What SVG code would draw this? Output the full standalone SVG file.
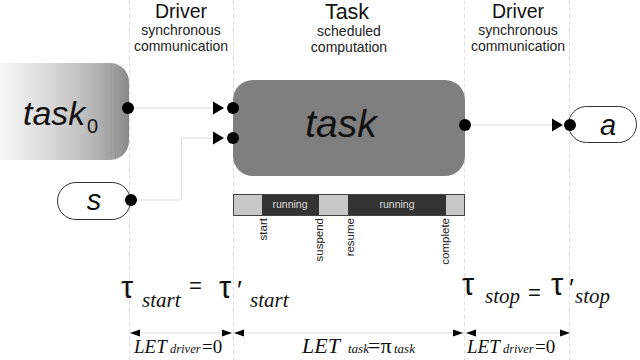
<svg xmlns="http://www.w3.org/2000/svg" width="640" height="360" viewBox="0 0 640 360">
  <style>
    .sans { font-family: "Liberation Sans", Arial, sans-serif; }
    .serif { font-family: "Liberation Serif", "Times New Roman", serif; }
    .head { font-size: 19.5px; fill: #111; text-anchor: middle; }
    .sub { font-size: 14px; fill: #222; text-anchor: middle; }
    .guide { stroke: #dddddd; stroke-width: 1; stroke-dasharray: 4 3; fill: none; }
    .wire { stroke: #dddddd; stroke-width: 1; fill: none; }
    .port { fill: #000; }
    .head-tri { fill: #000; }
    .pill { fill: #fff; stroke: #333; stroke-width: 1; }
    .seg-idle { fill: #c8c8c8; }
    .seg-run { fill: #333333; }
    .run-label { font-size: 10.5px; fill: #dddddd; text-anchor: middle; }
    .evt { font-size: 11.5px; fill: #222; text-anchor: end; }
    .tau { font-size: 31px; fill: #111; }
    .tsub { font-size: 21px; font-style: italic; fill: #111; }
    .eq { font-size: 22px; fill: #111; }
    .let { font-size: 19px; font-style: italic; fill: #111; }
    .letsub { font-size: 12.5px; font-style: italic; fill: #111; }
    .letop { font-size: 19px; fill: #111; }
  </style>
  <defs>
    <linearGradient id="fadeGrad" x1="0" y1="0" x2="1" y2="0">
      <stop offset="0" stop-color="#ffffff"/>
      <stop offset="0.25" stop-color="#f6f6f6"/>
      <stop offset="0.5" stop-color="#dcdcdc"/>
      <stop offset="0.75" stop-color="#bcbcbc"/>
      <stop offset="0.9" stop-color="#a2a2a2"/>
      <stop offset="1" stop-color="#888888"/>
    </linearGradient>
    <path id="triR" d="M0,-6.5 L11,0 L0,6.5 Z"/>
  </defs>

  <!-- phase boundaries -->
  <g id="guides">
    <line class="guide" x1="129.5" y1="0" x2="129.5" y2="360"/>
    <line class="guide" x1="233.5" y1="0" x2="233.5" y2="360"/>
    <line class="guide" x1="464.5" y1="0" x2="464.5" y2="360"/>
    <line class="guide" x1="569.5" y1="0" x2="569.5" y2="360"/>
  </g>

  <!-- phase headings -->
  <g id="headings" class="sans">
    <text class="head" x="181" y="18">Driver</text>
    <text class="sub" x="181" y="35">synchronous</text>
    <text class="sub" x="181" y="51">communication</text>
    <text class="head" x="347" y="19" style="font-size:21.5px">Task</text>
    <text class="sub" x="349" y="36">scheduled</text>
    <text class="sub" x="349" y="52">computation</text>
    <text class="head" x="518" y="18">Driver</text>
    <text class="sub" x="518" y="35">synchronous</text>
    <text class="sub" x="518" y="51">communication</text>
  </g>

  <!-- connectors -->
  <g id="connectors">
    <polyline class="wire" points="128,108 214,108"/>
    <polyline class="wire" points="131,200 181.5,200 181.5,138 214,138"/>
    <polyline class="wire" points="465,125 553,125"/>
    <use href="#triR" x="213" y="108"/>
    <use href="#triR" x="213" y="138"/>
    <use href="#triR" x="552" y="125"/>
  </g>

  <!-- upstream task -->
  <g id="task0">
    <rect x="-40" y="63" width="169" height="97" rx="19" fill="url(#fadeGrad)"/>
    <g stroke="#8a8a8a" stroke-width="1" opacity="0.3">
      <line x1="106.5" y1="63" x2="106.5" y2="160"/>
      <line x1="111.5" y1="63" x2="111.5" y2="160"/>
      <line x1="115.5" y1="63" x2="115.5" y2="160"/>
    </g>
    <text class="sans" x="23" y="125" style="font-size:34px;font-style:italic;fill:#111">task</text>
    <text class="sans" x="87" y="133" style="font-size:20px;fill:#111">0</text>
    <circle class="port" cx="128" cy="108" r="6"/>
  </g>

  <!-- source s -->
  <g id="s">
    <rect class="pill" x="57.5" y="182.5" width="73" height="37" rx="18.5"/>
    <text class="sans" x="94" y="210" style="font-size:29px;font-style:italic;fill:#111" text-anchor="middle">s</text>
    <circle class="port" cx="131" cy="200" r="6"/>
  </g>

  <!-- scheduled task -->
  <g id="task">
    <rect x="233" y="80" width="232" height="96" rx="20" fill="#7f7f7f"/>
    <text class="sans" x="341" y="137" style="font-size:39px;font-style:italic;fill:#111" text-anchor="middle">task</text>
    <circle class="port" cx="233" cy="108" r="6"/>
    <circle class="port" cx="233" cy="138" r="6"/>
    <circle class="port" cx="465" cy="125" r="6"/>
  </g>

  <!-- actuator a -->
  <g id="a">
    <rect class="pill" x="568.5" y="106.5" width="68" height="36" rx="18"/>
    <text class="sans" x="608" y="135" style="font-size:29px;font-style:italic;fill:#111" text-anchor="middle">a</text>
    <circle class="port" cx="570" cy="125" r="6"/>
  </g>

  <!-- execution timeline -->
  <g id="timeline" class="sans">
    <rect class="seg-idle" x="233" y="194" width="29" height="22"/>
    <rect class="seg-run" x="262" y="194" width="57" height="22"/>
    <rect class="seg-idle" x="319" y="194" width="29" height="22"/>
    <rect class="seg-run" x="348" y="194" width="98" height="22"/>
    <rect class="seg-idle" x="446" y="194" width="19" height="22"/>
    <rect x="233.5" y="194.5" width="231" height="21" fill="none" stroke="#444" stroke-width="1"/>
    <text class="run-label" x="290" y="208">running</text>
    <text class="run-label" x="397" y="208">running</text>
    <text class="evt" transform="translate(267,218) rotate(-90)">start</text>
    <text class="evt" transform="translate(323,218) rotate(-90)">suspend</text>
    <text class="evt" transform="translate(354,218) rotate(-90)">resume</text>
    <text class="evt" transform="translate(449,218) rotate(-90)">complete</text>
  </g>

  <!-- release / termination instants -->
  <g id="instants">
    <text class="sans tau" x="121" y="298">τ</text>
    <text class="serif tsub" x="142" y="307">start</text>
    <text class="sans eq" x="189" y="293">=</text>
    <text class="sans tau" x="219" y="298">τ</text>
    <text class="sans" x="237" y="299" style="font-size:26px;fill:#111">′</text>
    <text class="serif tsub" x="250" y="307">start</text>

    <text class="sans tau" x="462" y="295">τ</text>
    <text class="serif tsub" x="485" y="303">stop</text>
    <text class="sans eq" x="528" y="300">=</text>
    <text class="sans tau" x="551" y="295">τ</text>
    <text class="sans" x="569" y="297" style="font-size:26px;fill:#111">′</text>
    <text class="serif tsub" x="575" y="303">stop</text>
  </g>

  <!-- logical execution time spans -->
  <g id="spans">
    <line class="wire" x1="130" y1="333" x2="570" y2="333"/>
    <path class="head-tri" d="M130,333 L140,329.5 L140,336.5 Z"/>
    <path class="head-tri" d="M232,333 L222,329.5 L222,336.5 Z"/>
    <path class="head-tri" d="M234,333 L244,329.5 L244,336.5 Z"/>
    <path class="head-tri" d="M463,333 L453,329.5 L453,336.5 Z"/>
    <path class="head-tri" d="M466,333 L476,329.5 L476,336.5 Z"/>
    <path class="head-tri" d="M570,333 L560,329.5 L560,336.5 Z"/>

    <g class="serif">
      <text class="let" x="134" y="353">LET</text>
      <text class="letsub" x="170" y="353">driver</text>
      <text class="letop" x="202" y="353">=0</text>

      <text class="let" x="302" y="353" style="font-size:22px">LET</text>
      <text class="letsub" x="348" y="353" style="font-size:13px">task</text>
      <text class="letop" x="368" y="353" style="font-size:22px">=π</text>
      <text class="letsub" x="394" y="353" style="font-size:13px">task</text>

      <text class="let" x="467" y="353">LET</text>
      <text class="letsub" x="503" y="353">driver</text>
      <text class="letop" x="535" y="353">=0</text>
    </g>
  </g>
</svg>
